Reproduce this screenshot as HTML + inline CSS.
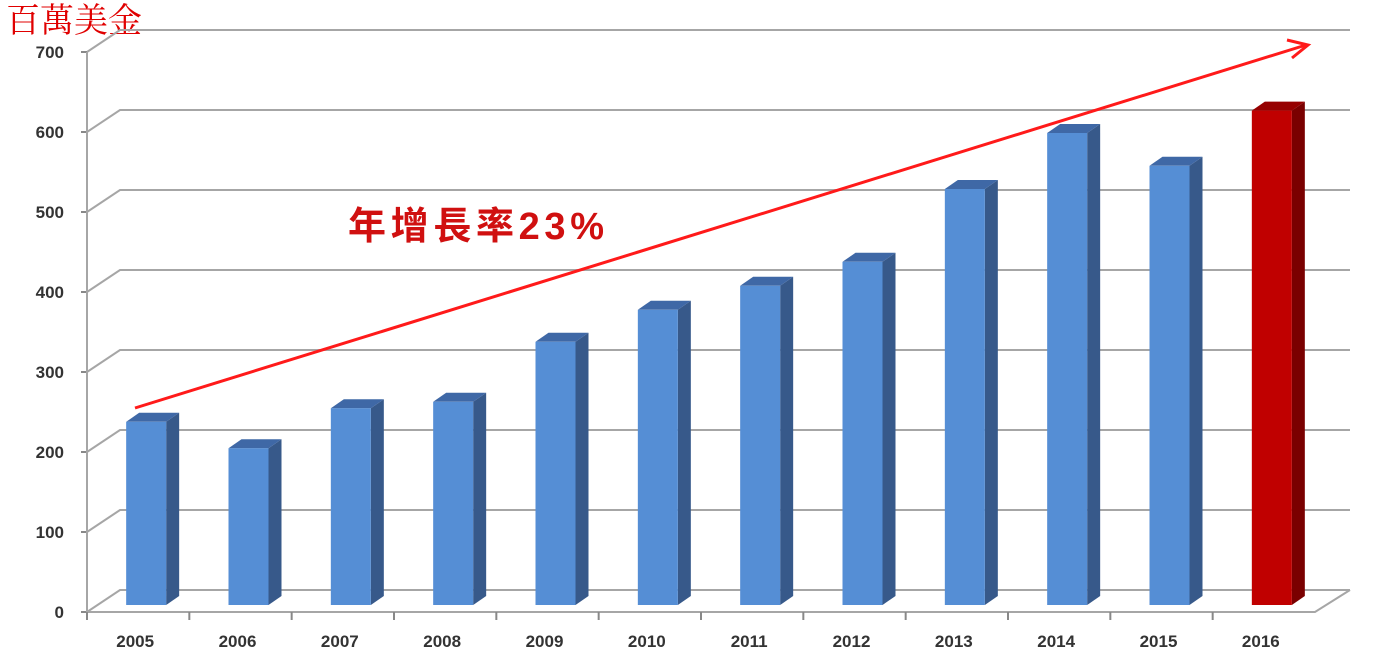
<!DOCTYPE html>
<html><head><meta charset="utf-8"><style>
body{margin:0;background:#fff;width:1385px;height:661px;overflow:hidden}
svg{display:block}
</style></head><body>
<svg id="chart" width="1385" height="661" xmlns="http://www.w3.org/2000/svg">
<text x="6" y="32" fill="#e00000" font-size="34" font-family="'Liberation Serif','Noto Serif CJK SC',serif">百萬美金</text>
<g id="grid"></g><g id="bars"></g><g id="labels"></g>
<line x1="135" y1="408" x2="1306" y2="45" stroke="#ff1a1a" stroke-width="3"/>
<polyline points="1287,40 1308,45 1292,58" fill="none" stroke="#ff1a1a" stroke-width="3"/>
<text x="348" y="239" fill="#d01010" font-size="38" font-weight="bold" textLength="256" font-family="'Liberation Sans','Noto Sans CJK TC',sans-serif">年增長率23%</text>
</svg>
<script>
const categories=["2005","2006","2007","2008","2009","2010","2011","2012","2013","2014","2015","2016"];
const values=[229,196,246,254,329,369,399,429,520,590,549,618];
const ticks=[0,100,200,300,400,500,600,700];
const NS="http://www.w3.org/2000/svg";
const g=document.getElementById('grid'),b=document.getElementById('bars'),l=document.getElementById('labels');
function mk(p,t,a){const e=document.createElementNS(NS,t);for(const k in a)e.setAttribute(k,a[k]);p.appendChild(e);return e;}
const X0=87,Y0=612,DX=33,DY=22,PX=0.8,RIGHT=1350;
const yf=v=>Y0-v*PX;
const step=(1315-X0)/categories.length;
const xc=i=>X0+step*(i+0.5);
ticks.forEach(t=>{
 const y=yf(t);
 const ln=mk(g,'polyline',{points:`${X0},${y} ${X0+DX},${y-DY} ${RIGHT},${y-DY}`,fill:'none',stroke:'#a6a6a6','stroke-width':2});
 
 
 const tx=mk(l,'text',{x:64,y:y+6,'text-anchor':'end','font-size':17,'font-weight':'bold',fill:'#333','font-family':'Liberation Sans,sans-serif'});
 tx.textContent=t;
 
 
 mk(g,'line',{x1:X0-6,y1:y,x2:X0,y2:y,stroke:'#888','stroke-width':2});
});
mk(g,'line',{x1:X0,y1:yf(700),x2:X0,y2:Y0,stroke:'#a6a6a6','stroke-width':2});
mk(g,'polyline',{points:`${X0},${Y0} 1315,${Y0} ${RIGHT},${Y0-DY}`,fill:'none',stroke:'#a6a6a6','stroke-width':2});
categories.forEach((c,i)=>{
 mk(g,'line',{x1:X0+step*i,y1:Y0,x2:X0+step*i,y2:Y0+8,stroke:'#888','stroke-width':2});
 const tx=mk(l,'text',{x:xc(i)-3,y:647,'text-anchor':'middle','font-size':17,'font-weight':'bold',fill:'#333','font-family':'Liberation Sans,sans-serif'});
 tx.textContent=c;
 
 
 const last=i===categories.length-1;
 const front=last?'#c00000':'#558ed5',side=last?'#7a0000':'#37598a',top=last?'#960000':'#3f68a6';
 const w=40,d=13,dy=9,base=605,x=xc(i)-w/2+8,y=base-values[i]*PX;
 const grp=mk(b,'g',{});
 
 
 mk(grp,'polygon',{points:`${x+w},${y} ${x+w+d},${y-dy} ${x+w+d},${base-dy} ${x+w},${base}`,fill:side});
 mk(grp,'polygon',{points:`${x},${y} ${x+d},${y-dy} ${x+w+d},${y-dy} ${x+w},${y}`,fill:top});
 mk(grp,'rect',{x:x,y:y,width:w,height:base-y,fill:front});
});
</script>
</body></html>
